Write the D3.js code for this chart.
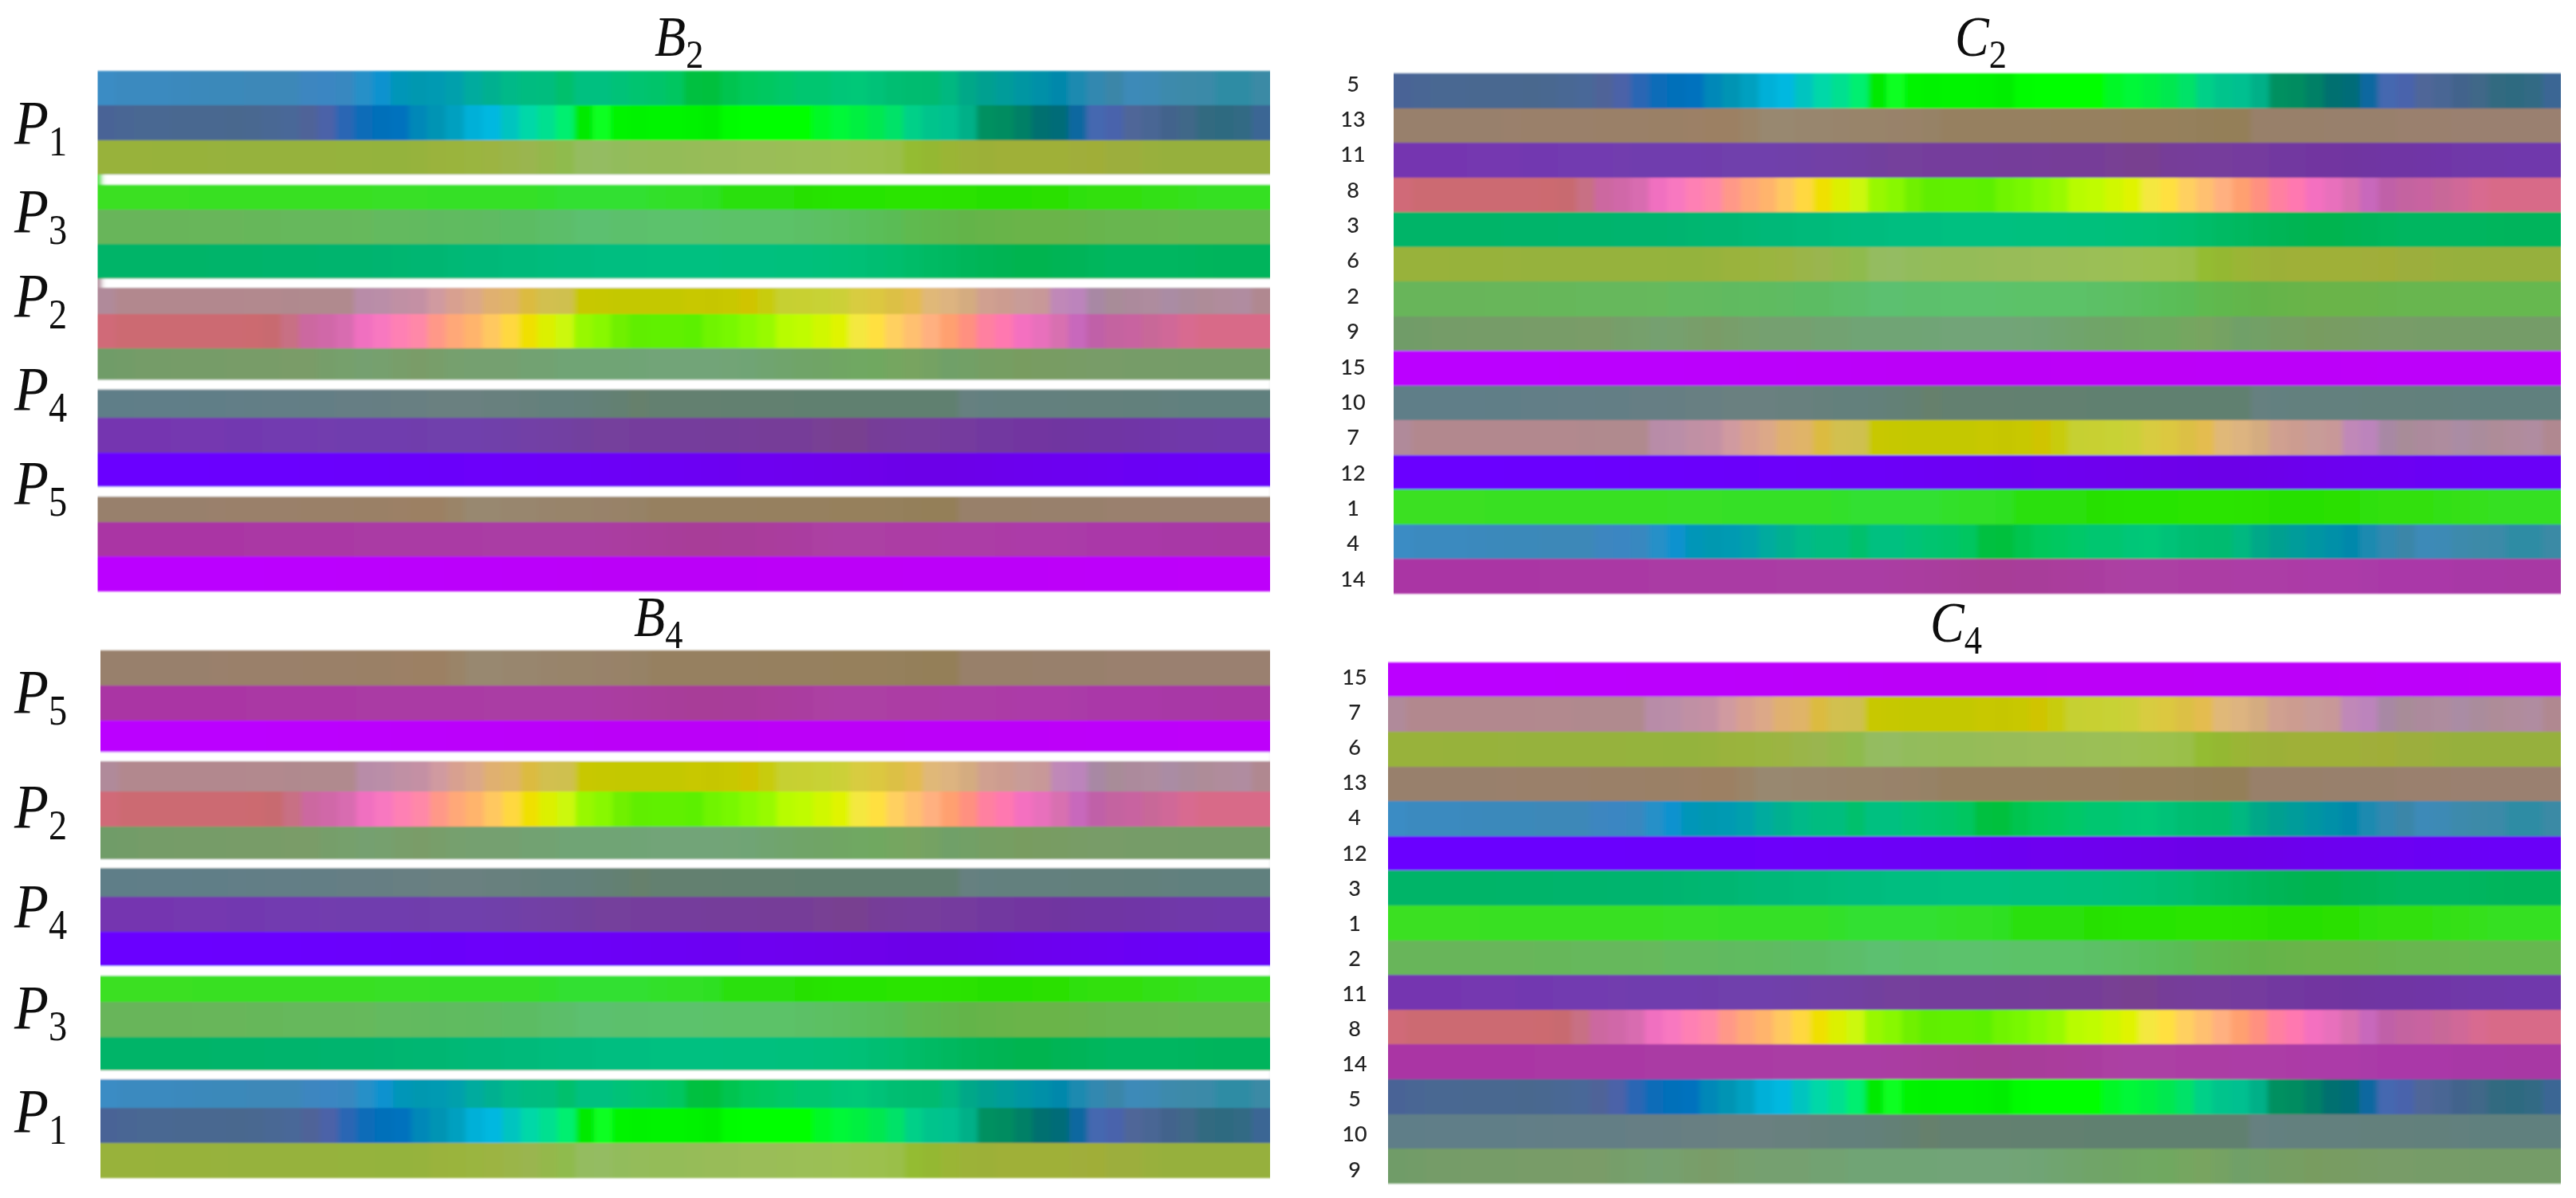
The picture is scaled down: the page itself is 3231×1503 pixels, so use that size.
<!DOCTYPE html>
<html>
<head>
<meta charset="utf-8">
<style>
html,body{margin:0;padding:0;background:#fff;overflow:hidden}
svg{display:block}
.math{font-family:"Liberation Serif",serif;fill:#111}
.rowlab text{font-family:Lato,"Open Sans",sans-serif;font-size:27px;font-weight:500;fill:#222}
</style>
<script src="https://cdn.jsdelivr.net/npm/d3@7/dist/d3.min.js"></script>
</head>
<body>
<svg id="chart" width="3231" height="1503"></svg>
<script>
const series1 = ["#3ae020","#3ae020","#3ae020","#3ae020","#3ae020","#39e020","#39e020","#39e022","#39e022","#38e022","#38e024","#38e024","#38e024","#38e024","#38e024","#38e026","#38e026","#38e026","#36e028","#36e028","#36e028","#36e028","#36e028","#36e028","#33e02c","#32e030","#30e030","#32e030","#32e030","#30e030","#30e02c","#30e028","#30e028","#2ee020","#2ce010","#2ae010","#2ae00c","#2ae008","#28e006","#28e204","#28e400","#28e400","#28e400","#2ae400","#2ce400","#2ce400","#2ce300","#2ae200","#28e000","#28e000","#28e000","#2ae000","#2ce006","#2ee00a","#30e010","#30e010","#30e010","#32e014","#34e018","#36e01c","#36e020","#36e020","#36e020","#36e020"];
const series2 = ["#68b55a","#68b55a","#68b55a","#68b55a","#68b55a","#68b65a","#68b65a","#68b65a","#66b75a","#66b75a","#66b85c","#66b85c","#66b85c","#66b85c","#66b95c","#64ba5e","#64ba5e","#62ba5e","#60ba60","#60bb60","#5ebb60","#5ebb62","#5cbc64","#5cbc64","#5cbe68","#5cbe6a","#5cc070","#5cc070","#5cc06c","#5cc06c","#5cc26c","#5cc26c","#5cc26c","#5cc26a","#5cc268","#5cc268","#5cc268","#5cc268","#5cc066","#5cc064","#5bbf60","#5abf5c","#5abe58","#5abc54","#5eba50","#60b84e","#62b64c","#64b44a","#66b44a","#68b448","#6ab448","#6ab448","#6ab44a","#6ab44c","#68b54e","#68b650","#68b650","#68b650","#68b750","#66b850","#66b850","#66b850","#66b850","#66b850"];
const series3 = ["#00b468","#00b468","#00b468","#00b468","#00b468","#00b468","#00b46a","#00b46a","#00b46a","#00b46c","#00b46c","#00b46c","#00b46e","#00b46e","#00b46e","#00b470","#00b670","#00b672","#00b672","#00b874","#00b878","#00b878","#00ba7a","#00ba7a","#00bc7c","#00bc7e","#00bc7e","#00be80","#00be80","#00be80","#00c080","#00c080","#00c080","#00c080","#00c07e","#00c07e","#00c07e","#00c07c","#00c07c","#00c07a","#00c078","#00c076","#00be72","#00be6e","#00bc68","#00ba64","#00b85e","#00b65a","#00b556","#00b452","#00b450","#00b450","#00b454","#00b458","#00b65c","#00b660","#00b660","#00b660","#00b660","#00b55e","#00b55c","#00b45c","#00b45c","#00b45c"];
const series4 = ["#3a8cc4","#3a8abf","#3a8abf","#3a8abf","#3a89bd","#3a89bb","#3a89ba","#3a89ba","#3c88b8","#3c88b8","#3c88b8","#3c86c0","#3b86c2","#3888c0","#2890c8","#0c92cf","#0096b8","#0098b0","#009ab2","#00a0ac","#00ab9e","#00b090","#00b988","#00bc80","#00bd7e","#00c06c","#00c080","#00c080","#00c278","#00c470","#00c46a","#00c660","#00c040","#00c03c","#00c450","#00c85a","#00c860","#00c868","#00c670","#00c670","#00c678","#00c878","#00c278","#00be72","#00bc70","#00bb70","#00b880","#00a888","#00a090","#009c9a","#0096a2","#0090a8","#0088ab","#1a8ab0","#3088b0","#3a86a8","#3c8ab8","#3c8ab5","#3e8aac","#3e8aa8","#3a8aa8","#2e8ca4","#2e8ca4","#3a8aa5"];
const series5 = ["#4a6496","#486694","#486792","#486792","#486890","#486890","#486890","#48688e","#4a6890","#4a6894","#4a6898","#506498","#4c62a8","#2a66b4","#0a6cb8","#0070ba","#0072be","#0088b8","#0094b4","#00a0c0","#00b0d8","#00b8e0","#00c4c0","#00d8a8","#00e090","#00ef70","#00ea00","#10ff20","#00f400","#00f200","#00f400","#00f400","#00f200","#00ee00","#00fc00","#00ff00","#00ff00","#00ff00","#00ff00","#00f828","#00f838","#00f040","#00e850","#00e268","#00d088","#00c48c","#00c090","#00b088","#009060","#008c60","#008066","#007070","#006c78","#1068a0","#4468b0","#4a64ac","#4f6698","#486694","#42648c","#3f6888","#326a80","#2e6a80","#306a84","#3a6694"];
const series6 = ["#98b23a","#98b23a","#98b23a","#97b23a","#97b23a","#97b23a","#97b23c","#96b23c","#96b23c","#96b23c","#96b23c","#96b23c","#96b23c","#95b33c","#95b33e","#94b33e","#94b33e","#96b33e","#9ab33c","#9ab43c","#9ab540","#9cb442","#9ab54a","#9ab550","#94b84c","#8fbb4e","#94bc60","#94bc62","#92bc5c","#94bc5a","#94bc58","#94bc58","#96bc58","#98bc58","#98bc58","#9abd58","#9abd58","#9abe56","#9bbf56","#9bbf54","#9cc052","#9cc050","#9cc04e","#9abf48","#94bc30","#94b830","#9ab534","#9cb238","#9cb038","#9fb038","#9fb038","#9fb038","#9fb038","#a0ae3a","#a0ae38","#9cae3c","#9cae3c","#98b03c","#96b03c","#96b03c","#96b03c","#96b03c","#96b03c","#96b03c"];
const series7 = ["#b08a9a","#b2888e","#b2888e","#b2888e","#b2888e","#b2888e","#b2888e","#b2888e","#b2898e","#b2898e","#b0898e","#b08a8e","#b08a8e","#b08a8e","#b88ca8","#ba8ea8","#c090a4","#c490a4","#d09aa0","#d8a090","#dca888","#e0b070","#e0b468","#dcbb40","#d2c050","#cfc050","#c8c800","#c6c800","#c4c800","#c4c800","#c4c800","#c4c800","#c8c800","#c6c600","#c8c804","#d0c404","#c8cc10","#c6d030","#c8d030","#c8d234","#ccd038","#d8cc40","#dcc840","#dcc044","#e4bc50","#e0b878","#ddb480","#d4ac80","#d0a090","#cc9c90","#c89c98","#c89898","#c088b8","#bc84bc","#a888a4","#a88c98","#ac8a9c","#ae8c9e","#aa8ca4","#aa8c9c","#ae8c98","#b08c9c","#b08ca0","#b08890"];
const series8 = ["#d06a78","#cc6a72","#cc6a72","#cc6a72","#cc6a72","#cc6a72","#cc6a72","#cc6a72","#cc6a70","#c86a70","#c87084","#cc68a0","#d068a8","#d86cb0","#f070c0","#f878c0","#fe80b4","#ff88a8","#ff9888","#ffa878","#ffb46c","#ffc860","#ffd840","#f0e000","#dcf000","#ccf810","#98f800","#88f800","#70f000","#60ee00","#60f000","#60f000","#5cf000","#70f400","#78f800","#88fa00","#98fa00","#b8fc00","#c0fc00","#d0f800","#e0f400","#f4e840","#ffe040","#ffd060","#ffc070","#ffb080","#ffa070","#ff9080","#ff80a0","#ff78b0","#f470c0","#e870bc","#d870b0","#c868bc","#c060a8","#c464a0","#c864a0","#c86898","#d06898","#d86a90","#d86a88","#d86a88","#d86a88","#d86a88"];
const series9 = ["#6f9c68","#729c68","#749c68","#749c68","#769c68","#769c68","#769c68","#789c68","#789c68","#789c68","#7a9c68","#7a9c68","#769e6a","#76a06c","#74a070","#76a06e","#789e6a","#7a9c68","#789e6a","#76a06e","#74a070","#74a070","#74a070","#72a272","#72a272","#70a474","#70a474","#70a474","#70a474","#70a476","#72a478","#72a478","#72a478","#72a478","#72a476","#70a474","#70a470","#70a46c","#70a468","#70a466","#70a664","#70a862","#70a860","#74a660","#78a460","#74a264","#70a068","#72a066","#749e64","#769e62","#789c60","#789c62","#789c64","#789c66","#789c68","#789c68","#769c68","#769c68","#769c68","#749c68","#749c68","#749c68","#749c68","#749c68"];
const series10 = ["#5f7e88","#5f7e88","#607e88","#607e88","#607e88","#617e87","#617e87","#627e87","#627e86","#637e86","#637e86","#647e85","#647e85","#667e84","#667e84","#667e83","#687f82","#687f82","#6a8080","#6a8080","#6a8080","#68807e","#68807e","#66807c","#64807c","#64807c","#64807a","#648076","#648072","#66806c","#648070","#648070","#648070","#648070","#628070","#628070","#628070","#628070","#618070","#618070","#608070","#608070","#608070","#608070","#608070","#608070","#608070","#668080","#648080","#64807e","#64807e","#64807e","#64807e","#64807c","#64807c","#64807c","#62807c","#62807c","#62807e","#60807e","#60807e","#60807e","#60807e","#60807e"];
const series11 = ["#7436b0","#7436b0","#7436b0","#7436b0","#7438b0","#7438b0","#7438b0","#7238b0","#7238b0","#723ab0","#723ab0","#723ab0","#723cae","#703cae","#703cae","#703eae","#703eae","#703eac","#7040ac","#7040ac","#7040ac","#7040aa","#7040a8","#7240a6","#7240a4","#7240a2","#72409e","#74409c","#74409c","#743e9c","#743e9c","#743e9c","#743e9c","#743e9a","#743e9a","#763e9a","#763e98","#763e98","#763e98","#784094","#784090","#784090","#763e98","#763e9a","#763c9c","#763c9c","#743a9e","#743a9e","#7238a0","#7238a0","#7236a0","#7236a0","#7036a0","#7036a2","#7036a4","#7036a4","#7036a6","#7036a8","#7038a8","#7038aa","#7038aa","#7038ac","#7038ac","#7038ac"];
const series12 = ["#6a00ff","#6a00ff","#6a00ff","#6a00ff","#6a00ff","#6a00ff","#6a00fe","#6a00fe","#6a00fe","#6a00fe","#6a00fe","#6a00fd","#6a00fd","#6a00fc","#6a00fc","#6a00fc","#6a00fb","#6a00fb","#6a00fa","#6a00fa","#6c00fa","#6c00fa","#6c00f9","#6c00f9","#6c00f8","#6c00f8","#6c00f8","#6c00f7","#6c00f6","#6c00f5","#6c00f4","#6c00f4","#6c00f3","#6c00f2","#6c00f1","#6e00f0","#6e00f0","#6e00ef","#6e00ee","#6e00ed","#6e00ec","#6e00eb","#6e00ea","#6c00e9","#6c00e8","#6c00e8","#6c00e8","#6c00e9","#6c00ea","#6c00ec","#6c00ee","#6c00ef","#6c00f0","#6c00f1","#6c00f2","#6c00f3","#6a00f4","#6a00f5","#6a00f6","#6a00f7","#6a00f8","#6a00f8","#6a00f8","#6a00f8"];
const series13 = ["#98806c","#98806c","#98806c","#98806c","#98806c","#98806c","#9a806c","#9a806a","#9a806a","#9a806a","#9a806a","#9a8068","#9a8068","#9a8068","#9a8066","#9a8066","#9c8066","#9c8064","#9c8064","#9a8468","#988870","#988870","#98866e","#98866e","#98846c","#98846a","#98846a","#98826a","#988268","#968266","#968060","#968060","#968060","#968060","#968060","#968060","#96805e","#96805e","#96805e","#96805e","#96805c","#96805c","#96805c","#95805c","#947f5a","#947f58","#947f58","#98806a","#98806a","#98806a","#98806a","#98806c","#98806c","#98806c","#98806c","#9a806e","#9a806e","#9a806e","#9a8070","#9a8070","#9a8070","#9a8070","#9a8070","#9a8070"];
const series14 = ["#aa36a4","#aa36a4","#aa36a4","#aa36a4","#aa36a4","#aa36a4","#aa36a4","#aa36a4","#aa38a4","#aa38a4","#aa38a4","#aa38a4","#aa38a4","#aa38a4","#aa3aa4","#aa3aa4","#aa3aa4","#aa3aa4","#aa3aa4","#aa3aa4","#aa3aa4","#aa3ca4","#aa3ca4","#aa3ca4","#aa3ca4","#aa3ca4","#aa3ca4","#aa3ca2","#aa3ca0","#a93c9e","#a93c9c","#a83c9a","#a83c98","#a83c98","#a83c9a","#a83c9a","#aa3c9c","#aa3e9e","#aa3ea0","#ac40a2","#ac40a4","#ac40a4","#ac40a4","#ac3ea4","#ac3ea4","#ac3ea4","#ac3ca6","#ac3ca6","#ac3ca6","#ac3aa6","#ac3aa8","#ac3aa8","#ac3aa8","#aa3aa8","#aa38a8","#aa38a8","#aa38a8","#aa38a8","#a838a6","#a838a6","#a838a6","#a838a4","#a838a4","#a838a4"];
const series15 = ["#bb00ff","#bb00ff","#bb00ff","#bb00ff","#bb00ff","#bb00ff","#bb00ff","#bb00ff","#bb00ff","#bb00fe","#bb00fe","#bb00fe","#bb00fe","#bb00fd","#bb00fd","#bb00fd","#bb00fc","#bb00fc","#bb00fc","#bb00fb","#bb00fb","#bb00fb","#bb00fa","#bb00fa","#bb00fa","#bb00f9","#bb00f9","#bb00f8","#bb00f8","#bb00f8","#bb00f8","#bb00f8","#bb00f8","#bb00f8","#bb00f8","#bb00f8","#bc00f8","#bc00f8","#bc00f8","#bc00f8","#bc00f8","#bc00f8","#bc00f8","#bc00f8","#bc00f9","#bc00f9","#bc00f9","#bc00f9","#bc00f9","#bc00f9","#bc00f9","#bc00f9","#bd00f9","#bd00f9","#bd00fa","#bd00fa","#bd00fa","#bd00fa","#bd00fa","#be00fa","#be00fa","#be00fa","#be00fa","#be00fa"];

const seriesValues = {1:series1,2:series2,3:series3,4:series4,5:series5,6:series6,7:series7,8:series8,9:series9,10:series10,11:series11,12:series12,13:series13,14:series14,15:series15};

// Row order of each panel, top to bottom
const orderB2 = [4,5,6,1,2,3,7,8,9,10,11,12,13,14,15];
const orderB4 = [13,14,15,7,8,9,10,11,12,1,2,3,4,5,6];
const orderC2 = [5,13,11,8,3,6,2,9,15,10,7,12,1,4,14];
const orderC4 = [15,7,6,13,4,12,3,1,2,11,8,14,5,10,9];

// Group subscripts, top to bottom
const groupsB2 = ["1","3","2","4","5"];
const groupsB4 = ["5","2","4","3","1"];

// Layout
const panels = [
  {letter:"B",sub:"2",order:orderB2,x:[122.5,1593],y:[88.7,742],
   title:[821,70],
   groups:groupsB2,groupBase:[180,291,397,514,632],
   gaps:[[219,231.7,5],[349.5,361,5],[476.5,488.6,0],[610.7,623,0]]},
  {letter:"B",sub:"4",order:orderB4,x:[126,1593],y:[816.3,1477.7],
   title:[795,798],
   groups:groupsB4,groupBase:[894,1038,1163,1290,1420],
   gaps:[[943.5,955,0],[1078,1089,0],[1212,1224,0],[1343,1354,0]]},
  {letter:"C",sub:"2",order:orderC2,x:[1748,3212],y:[92,745],
   title:[2452,70],labelY:[83.8,749.2],labelX:1697},
  {letter:"C",sub:"4",order:orderC4,x:[1741,3212],y:[830.7,1484.7],
   title:[2421,805],labelY:[828.3,1490],labelX:1699}
];

const nCols = series1.length;
const svg = d3.select("#chart");
const defs = svg.append("defs");
defs.append("filter").attr("id","soft").attr("x","-2%").attr("y","-5%").attr("width","104%").attr("height","110%")
  .append("feGaussianBlur").attr("stdDeviation","3 1.2");
defs.append("filter").attr("id","softText").attr("x","-10%").attr("y","-10%").attr("width","120%").attr("height","120%")
  .append("feGaussianBlur").attr("stdDeviation",0.6);

function mathLabel(g,main,sub,x,base,size,subSize,drop){
  const t = g.append("text").attr("class","math")
    .attr("transform",`translate(${x},${base}) scale(0.89,1)`);
  t.append("tspan").attr("font-style","italic").attr("font-size",size).text(main);
  t.append("tspan").attr("font-size",subSize).attr("dy",drop).text(sub);
}

panels.forEach((p,pi)=>{
  const x = d3.scaleBand().domain(d3.range(nCols)).range(p.x);
  const y = d3.scaleBand().domain(p.order).range(p.y);
  // cells at the left and right ends reach past the panel; the clip restores a crisp edge after the blur
  const over = 12;
  defs.append("clipPath").attr("id","clip"+pi).append("rect")
    .attr("x",p.x[0]).attr("width",p.x[1]-p.x[0])
    .attr("y",p.y[0]-4).attr("height",p.y[1]-p.y[0]+8);
  const heat = svg.append("g").attr("clip-path",`url(#clip${pi})`)
    .append("g").attr("filter","url(#soft)");
  const rows = heat.selectAll("g.row").data(p.order).join("g").attr("class","row")
    .attr("transform",d=>`translate(0,${y(d)})`);
  rows.selectAll("rect").data(d=>seriesValues[d].map((c,i)=>({c,i}))).join("rect")
    .attr("x",d=>x(d.i)-(d.i===0?over:0))
    .attr("width",d=>x.bandwidth()+0.6+(d.i===0||d.i===nCols-1?over:0))
    .attr("height",y.bandwidth()+0.4)
    .attr("fill",d=>d.c)
    .attr("shape-rendering","crispEdges");
  // white bars that separate the groups
  if(p.gaps){
    heat.selectAll("rect.gap").data(p.gaps).join("rect").attr("class","gap")
      .attr("x",d=>d[2]?p.x[0]+d[2]:p.x[0]-over-4).attr("width",d=>p.x[1]-p.x[0]+over+8)
      .attr("y",d=>d[0]).attr("height",d=>d[1]-d[0]).attr("fill","#fff");
  }
  const txt = svg.append("g").attr("filter","url(#softText)");
  mathLabel(txt,p.letter,p.sub,p.title[0],p.title[1],72,50,15);
  if(p.groups){
    p.groups.forEach((g,i)=>mathLabel(txt,"P",g,18,p.groupBase[i],79,52,15));
  }
  if(p.labelY){
    const ly = d3.scaleBand().domain(p.order).range(p.labelY);
    const ax = svg.append("g").attr("class","rowlab").attr("filter","url(#softText)")
      .attr("transform",`translate(${p.labelX},0)`)
      .call(d3.axisLeft(ly).tickSize(0).tickPadding(0));
    ax.select(".domain").remove();
    ax.selectAll("text").attr("text-anchor","middle").attr("x",0);
  }
});
</script>
</body>
</html>
